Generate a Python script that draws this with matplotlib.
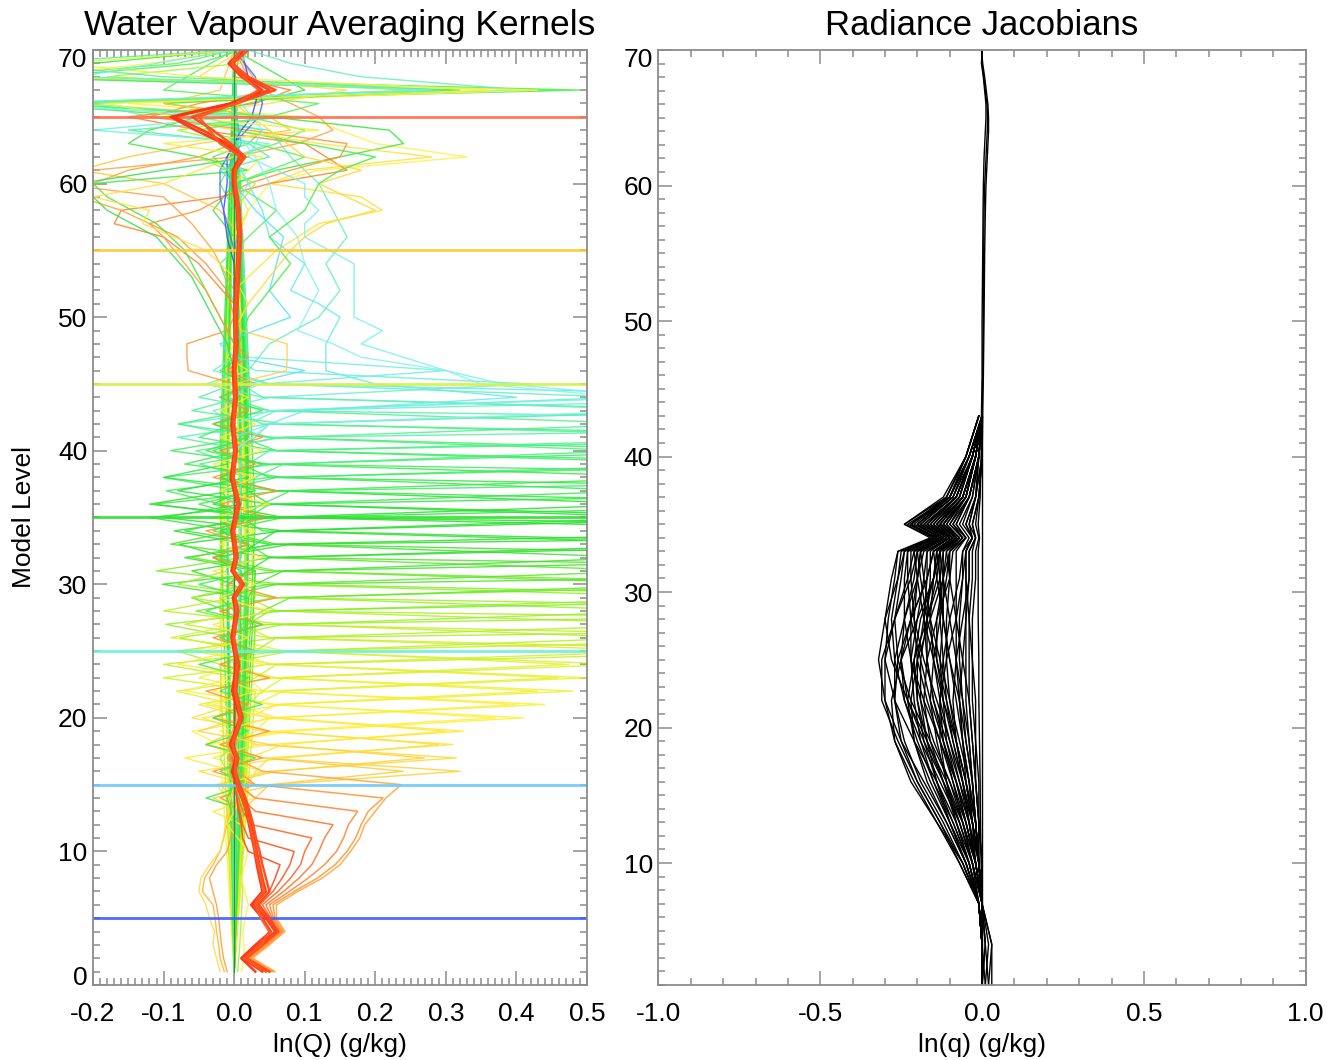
import numpy as np
import matplotlib
matplotlib.use("Agg")
import matplotlib.pyplot as plt
from matplotlib.ticker import MultipleLocator, FormatStrFormatter
from matplotlib.transforms import ScaledTranslation

plt.rcParams['font.family'] = ['Liberation Sans', 'DejaVu Sans']
plt.rcParams['axes.unicode_minus'] = False

# ==========================================
# Averaging kernels (left panel)
# ==========================================

# reference levels drawn across the whole panel
ref_levels = [5, 15, 25, 35, 45, 55, 65]
ref_colors = ['#3a5cff', '#6cc8ff', '#6af0d8', '#30e030', '#d8f048', '#ffc830', '#ff6a48']

# sharp kernels of the mid levels: values at offsets -3..+3 around the peak level
spike_level = [16, 17, 18, 19, 20, 21, 22, 23, 24, 25, 26, 27, 28, 29, 30, 31,
               32, 33, 34, 35, 36, 37, 38, 39, 40, 41, 42, 43, 44, 45, 46]
spike_window = [
    [0.01, -0.03, 0.06, 0.32, 0.04, -0.02, 0.02],
    [-0.01, -0.025, 0.05, 0.315, 0.03, 0.01, -0.02],
    [0.02, -0.05, 0.07, 0.29, 0.05, -0.02, 0.01],
    [0.0, -0.07, 0.05, 0.325, 0.06, 0.0, 0.02],
    [0.02, -0.04, 0.08, 0.41, 0.05, -0.03, 0.01],
    [-0.02, -0.06, 0.06, 0.40, 0.04, 0.02, -0.01],
    [0.01, -0.045, 0.07, 0.48, 0.06, -0.02, 0.03],
    [0.02, -0.05, 0.05, 0.46, 0.05, 0.0, -0.02],
    [0.0, -0.082, 0.06, 0.475, 0.07, -0.01, 0.02],
    [0.03, -0.10, 0.05, 0.62, 0.05, 0.01, -0.02],
    [0.01, -0.10, 0.07, 0.90, 0.04, -0.02, 0.03],
    [-0.02, -0.08, 0.06, 0.65, 0.06, 0.02, 0.0],
    [0.02, -0.077, 0.05, 1.20, 0.05, -0.02, 0.02],
    [0.0, -0.097, 0.07, 0.70, 0.04, 0.0, -0.02],
    [0.03, -0.054, 0.06, 0.80, 0.06, -0.03, 0.02],
    [-0.01, -0.06, 0.05, 0.60, 0.05, 0.02, -0.01],
    [0.02, -0.102, 0.07, 1.00, 0.06, -0.02, 0.03],
    [0.0, -0.06, 0.05, 0.70, 0.04, 0.01, -0.02],
    [0.03, -0.07, 0.06, 0.90, 0.07, -0.03, 0.01],
    [-0.01, -0.078, 0.07, 0.75, 0.05, 0.02, -0.01],
    [0.02, -0.085, 0.05, 0.60, 0.06, -0.02, 0.02],
    [0.0, -0.12, 0.06, 1.10, 0.05, 0.01, -0.02],
    [0.03, -0.112, 0.07, 0.65, 0.04, -0.03, 0.02],
    [-0.02, -0.096, 0.05, 0.85, 0.06, 0.01, 0.0],
    [0.01, -0.10, 0.06, 0.70, 0.05, -0.02, 0.02],
    [0.02, -0.049, 0.05, 1.00, 0.04, 0.0, -0.01],
    [0.0, -0.054, 0.07, 0.60, 0.05, -0.01, 0.02],
    [0.02, -0.08, 0.05, 0.70, 0.04, 0.01, 0.0],
    [0.01, -0.077, 0.06, 0.55, 0.05, -0.01, 0.01],
    [0.0, -0.03, 0.05, 0.42, 0.03, 0.0, 0.01],
    [0.01, -0.02, 0.04, 0.30, 0.02, 0.0, 0.0],
]
spike_color = ['#ffd030', '#ffd838', '#ffe030', '#ffe838', '#fff030', '#fff040',
               '#f0f030', '#e8f028', '#e0f030', '#d0f028', '#c0f020', '#b0f020',
               '#a0f020', '#90f028', '#70ec28', '#58e828', '#40e428', '#30e030',
               '#28e028', '#20e020', '#28e030', '#30e840', '#38e848', '#40ec58',
               '#40ec68', '#48f080', '#50f090', '#58f0a8', '#60f0c0', '#68f0d0',
               '#70f0e0']

# second family of sharp kernels, negative lobe above the peak
spike2_level = [16, 17, 18, 19, 20, 21, 22, 23, 24, 25, 26, 27, 28, 29, 30, 31,
                32, 33, 34, 35, 36, 37, 38, 39, 40, 41, 42, 43, 44]
spike2_window = [
    [0.01, 0.03, 0.05, 0.24, 0.04, -0.04, 0.0],
    [0.0, -0.02, 0.06, 0.27, 0.05, -0.05, 0.01],
    [0.02, 0.03, 0.05, 0.31, 0.04, -0.06, 0.0],
    [-0.01, 0.02, 0.07, 0.30, 0.05, -0.04, 0.02],
    [0.01, -0.02, 0.06, 0.37, 0.06, -0.07, 0.0],
    [0.0, 0.03, 0.05, 0.44, 0.04, -0.05, 0.01],
    [0.02, 0.02, 0.06, 0.43, 0.05, -0.08, 0.0],
    [-0.01, 0.03, 0.07, 0.50, 0.06, -0.06, 0.02],
    [0.02, 0.04, 0.07, 0.55, 0.06, -0.09, 0.01],
    [-0.01, 0.03, 0.06, 0.80, 0.05, -0.07, 0.02],
    [0.01, -0.02, 0.08, 0.58, 0.07, -0.10, 0.0],
    [0.0, 0.03, 0.06, 1.50, 0.05, -0.06, 0.02],
    [0.02, -0.02, 0.07, 0.62, 0.06, -0.08, -0.01],
    [-0.01, 0.02, 0.05, 0.95, 0.07, -0.11, 0.01],
    [0.01, 0.04, 0.08, 0.66, 0.05, -0.06, 0.02],
    [0.0, -0.02, 0.06, 1.30, 0.06, -0.09, 0.0],
    [0.02, 0.03, 0.07, 0.58, 0.05, -0.07, 0.02],
    [-0.01, 0.02, 0.05, 0.85, 0.07, -0.10, 0.01],
    [0.01, -0.03, 0.08, 1.60, 0.06, -0.12, 0.0],
    [0.0, 0.03, 0.06, 0.62, 0.05, -0.08, 0.02],
    [0.02, -0.02, 0.07, 0.90, 0.06, -0.10, -0.01],
    [-0.01, 0.02, 0.05, 0.58, 0.07, -0.07, 0.01],
    [0.01, 0.04, 0.08, 1.20, 0.05, -0.09, 0.02],
    [0.0, -0.02, 0.06, 0.70, 0.06, -0.05, 0.0],
    [0.02, 0.03, 0.07, 0.56, 0.05, -0.08, 0.02],
    [-0.01, 0.02, 0.05, 0.80, 0.07, -0.06, 0.01],
    [0.01, -0.02, 0.06, 1.40, 0.05, -0.05, 0.0],
    [0.0, 0.03, 0.05, 0.65, 0.04, -0.04, 0.02],
    [0.01, 0.02, 0.06, 0.90, 0.05, -0.03, 0.0],
]
spike2_color = ['#ffc838', '#ffd030', '#ffe038', '#ffe830', '#fff038', '#f8f030',
                '#f0f030', '#e8f030', '#d8f030', '#c8f028', '#b8f020', '#a8f020',
                '#98f028', '#80ec28', '#68e828', '#50e428', '#40e030', '#30e030',
                '#28e028', '#28e038', '#30e840', '#38e850', '#40ec60', '#40ec70',
                '#48f080', '#50f090', '#58f0a8', '#60f0b8', '#68f0c8']

# broad lower kernels fanning out from the surface layers
fan_levels = [1, 2, 3, 4, 5, 6, 7, 8, 9, 10, 11, 12, 13, 14, 15, 16, 17, 18, 20, 24]
fan_values = [
    [0.045, 0.015, 0.037, 0.060, 0.048, 0.032, 0.050, 0.058, 0.065, 0.020, 0.012, 0.010, 0.006, 0.004, 0.0, 0.002, -0.003, 0.002, 0.0, 0.0],
    [0.048, 0.016, 0.040, 0.062, 0.050, 0.036, 0.055, 0.068, 0.079, 0.085, 0.020, 0.012, 0.008, 0.004, 0.0, -0.003, 0.002, 0.0, 0.002, 0.0],
    [0.050, 0.018, 0.042, 0.064, 0.052, 0.040, 0.062, 0.080, 0.094, 0.100, 0.110, 0.025, 0.012, 0.006, 0.0, 0.004, -0.004, 0.0, 0.0, 0.0],
    [0.052, 0.020, 0.044, 0.066, 0.054, 0.045, 0.070, 0.092, 0.110, 0.120, 0.128, 0.140, 0.030, 0.010, 0.002, -0.004, 0.003, 0.0, 0.0, 0.0],
    [0.054, 0.022, 0.046, 0.068, 0.056, 0.050, 0.078, 0.105, 0.128, 0.145, 0.155, 0.162, 0.175, 0.030, 0.005, 0.0, -0.005, 0.002, 0.0, 0.0],
    [0.056, 0.024, 0.048, 0.070, 0.058, 0.055, 0.085, 0.118, 0.143, 0.160, 0.172, 0.180, 0.190, 0.211, 0.030, 0.005, -0.010, 0.003, 0.0, 0.0],
    [0.058, 0.026, 0.050, 0.072, 0.060, 0.060, 0.090, 0.125, 0.150, 0.165, 0.178, 0.185, 0.200, 0.215, 0.237, 0.040, 0.0, -0.010, 0.005, 0.0],
]
fan_colors = ['#ff4818', '#ff5820', '#ff6828', '#ff7830', '#ff8838', '#ff9838', '#ffa840']

# near-surface kernels leaning to negative values
low_levels = [
    [1, 2, 3, 4, 5, 6, 7, 8, 9, 10, 12, 14, 16],
    [1, 2, 3, 4, 5, 6, 7, 8, 9, 10, 11, 13, 15],
    [1, 2, 3, 4, 5, 6, 7, 8, 9, 10, 12, 15],
    [1, 3, 5, 7, 9, 11, 13, 15, 17, 19],
    [1, 4, 8, 12, 14, 16, 18],
    [1, 2, 4, 6, 8, 10, 12, 14, 16],
]
low_values = [
    [-0.014, -0.02, -0.022, -0.025, -0.027, -0.03, -0.045, -0.042, -0.03, -0.02, -0.01, 0.0, 0.0],
    [-0.02, -0.025, -0.03, -0.028, -0.035, -0.04, -0.05, -0.047, -0.035, -0.02, -0.015, -0.01, 0.0],
    [-0.01, -0.015, -0.018, -0.02, -0.022, -0.025, -0.03, -0.035, -0.025, -0.01, 0.0, 0.005],
    [0.005, 0.008, 0.01, 0.012, 0.01, 0.015, 0.01, 0.0, -0.02, 0.02],
    [0.0, 0.002, 0.004, 0.002, -0.01, 0.01, -0.01],
    [0.01, 0.015, 0.012, 0.02, 0.01, 0.02, -0.01, 0.01, 0.02],
]
low_colors = ['#ffb030', '#ffd840', '#ff9830', '#a0f040', '#40e840', '#fff040']

# zig-zagging kernels crowding the centre of the mid levels
mid_levels = np.arange(12, 49)
mid_values = [
    [0.0, 0.02, -0.02, 0.03, -0.03, 0.04, -0.02, 0.05, -0.03, 0.02,
     -0.04, 0.05, -0.02, 0.03, -0.03, 0.04, -0.02, 0.06, -0.01, 0.03,
     -0.03, 0.02, -0.04, 0.05, -0.02, 0.06, -0.03, 0.03, -0.02, 0.04,
     -0.03, 0.02, -0.02, 0.03, -0.01, 0.02, 0.0],
    [0.01, -0.03, 0.03, -0.01, 0.04, -0.03, 0.03, -0.02, 0.05, -0.03,
     0.03, -0.02, 0.04, -0.04, 0.02, -0.03, 0.05, -0.02, 0.03, -0.03,
     0.04, -0.02, 0.03, -0.03, 0.05, -0.02, 0.03, -0.03, 0.04, -0.02,
     0.03, -0.02, 0.02, -0.03, 0.02, -0.01, 0.0],
    [-0.01, 0.02, -0.04, 0.02, -0.02, 0.03, -0.04, 0.02, -0.03, 0.04,
     -0.02, 0.02, -0.05, 0.03, -0.02, 0.04, -0.04, 0.02, -0.05, 0.03,
     -0.02, 0.05, -0.03, 0.02, -0.05, 0.03, -0.02, 0.04, -0.04, 0.02,
     -0.03, 0.04, -0.02, 0.02, -0.02, 0.01, 0.0],
]
mid_colors = ['#ff9030', '#ffe838', '#40e848']

# upper-level kernels
upper_levels = [
    [70, 69, 68, 67, 66, 65, 64, 63, 62, 60, 58, 55, 50],
    [70, 69, 68, 67, 66, 65, 64, 63, 62, 60, 57, 53, 49],
    [70, 69, 68, 67, 66, 65, 64, 62, 60, 58, 56, 54, 52, 50, 48, 46],
    [70, 69, 68, 67, 66, 65, 64, 63, 62, 61, 60, 58, 55, 50],
    [70, 69, 68, 67, 66, 65, 64, 63, 62, 61, 60, 58, 56, 52],
    [70, 68, 67, 66, 65, 64, 63, 62, 61, 60, 59, 58, 57, 55, 52],
    [70, 68, 67, 66, 65, 64, 63, 62, 61, 60, 58, 57, 56, 54, 52, 50],
    [70, 68, 67, 66, 65, 64, 63, 62, 61, 60, 59, 58, 57, 56, 54, 51],
    [70, 67, 66, 65, 64, 63, 62, 61, 60, 59, 57, 55, 52],
    [70, 67, 66, 65, 64, 63, 62, 61, 60, 58, 56, 53],
    [70, 67, 66, 65, 64, 63, 62, 61, 60, 59, 57, 55, 52, 50, 48],
    [70, 67, 66, 65, 64, 63, 62, 61, 60, 58, 56, 54, 51],
    [66, 64, 62, 60, 59, 58, 57, 56, 54, 52, 50, 49, 48, 47, 46, 45, 44, 43, 42],
    [64, 62, 60, 58, 56, 54, 52, 50, 49, 48, 47, 46, 45, 44, 43, 42, 40],
    [62, 60, 58, 56, 54, 52, 51, 50, 48, 46, 45, 44, 43, 41],
    [60, 58, 56, 54, 52, 50, 48, 47, 46, 45, 44],
    [70, 68, 67, 66, 65, 64, 62, 60, 58, 56, 54, 50],
    [70, 68, 66, 65, 63, 61, 59, 57, 55],
    [66, 63, 61, 59, 57, 55],
    [63, 62, 61, 60, 59, 58, 57, 56, 54, 52, 50, 48],
    [62, 60, 59, 58, 57, 55, 53, 51, 49],
    [62, 61, 60, 58, 56, 53, 50, 48, 46],
    [66, 64, 62, 61, 60, 59, 58, 57, 56, 55, 53, 51, 49],
    [64, 63, 62, 61, 60, 58, 56, 54, 52, 50, 47],
    [70, 69, 68, 67, 66, 65, 64, 63, 62, 60, 58, 55],
    [50, 49, 48, 47, 46, 45],
    [50, 49, 48, 47, 46, 45],
    [70, 69, 68, 67, 66, 65, 64, 63, 62, 61, 60, 58],
    [70, 69, 68, 67, 66, 65, 64, 63, 62, 60, 58, 56],
    [70, 68, 67, 66, 65, 64, 63, 62, 60, 58],
]
upper_values = [
    [0.01, -0.05, -0.26, 0.49, -0.30, -0.05, 0.04, 0.02, -0.03, 0.01, 0.0, 0.01, 0.0],
    [0.0, -0.08, -0.30, 0.45, -0.25, 0.02, 0.10, 0.06, 0.0, -0.02, 0.01, 0.0, 0.0],
    [0.02, 0.08, 0.18, 0.41, -0.20, -0.12, 0.05, 0.08, 0.12, 0.14, 0.16, 0.13, 0.15, 0.12, 0.05, 0.02],
    [0.0, -0.12, -0.28, 0.43, -0.15, 0.10, 0.15, 0.20, 0.33, 0.12, 0.05, 0.02, 0.0, 0.01],
    [0.0, -0.20, -0.35, 0.32, -0.10, 0.05, 0.22, 0.24, 0.15, 0.06, 0.0, -0.03, 0.0, 0.01],
    [0.01, -0.05, 0.16, 0.05, -0.10, 0.0, 0.12, 0.28, 0.10, 0.05, 0.18, 0.21, 0.12, 0.06, 0.0],
    [0.0, 0.02, 0.06, -0.05, -0.12, 0.02, 0.16, 0.15, 0.08, 0.02, -0.05, -0.12, -0.08, -0.04, -0.01, 0.0],
    [0.01, 0.0, 0.08, 0.03, -0.15, -0.05, 0.10, 0.13, 0.16, 0.05, -0.02, -0.16, -0.17, -0.10, -0.05, 0.0],
    [0.0, 0.04, 0.08, 0.12, 0.14, 0.09, 0.0, -0.20, -0.25, -0.10, -0.06, -0.03, 0.0],
    [0.0, -0.02, -0.10, 0.05, 0.08, -0.05, -0.15, -0.22, -0.10, -0.02, 0.01, 0.0],
    [0.0, 0.10, 0.02, -0.05, -0.12, -0.15, -0.05, 0.02, -0.20, -0.18, -0.11, -0.07, -0.04, -0.02, 0.0],
    [0.0, -0.10, 0.12, 0.05, -0.05, 0.03, 0.10, 0.05, 0.0, 0.06, 0.02, -0.02, 0.0],
    [0.01, 0.04, 0.02, 0.10, 0.10, 0.12, 0.10, 0.10, 0.17, 0.17, 0.17, 0.21, 0.18, 0.24, 0.30, 0.38, 0.60, 0.05, 0.0],
    [0.0, 0.03, 0.05, 0.06, 0.09, 0.10, 0.12, 0.10, 0.09, 0.14, 0.18, 0.30, 0.35, 0.55, 0.60, 0.05, 0.0],
    [0.0, 0.02, 0.04, 0.05, 0.10, 0.08, 0.12, 0.15, 0.13, 0.13, 0.20, 0.40, 0.10, 0.0],
    [0.0, 0.03, 0.07, 0.06, 0.05, 0.08, -0.02, 0.0, 0.10, 0.02, 0.0],
    [0.01, 0.02, 0.035, 0.03, 0.025, 0.01, -0.01, -0.01, -0.015, -0.01, 0.0, 0.0],
    [0.0, 0.03, 0.04, 0.035, 0.0, -0.02, -0.02, -0.01, 0.0],
    [0.0, 0.01, -0.01, 0.0, 0.01, 0.0],
    [0.0, -0.05, -0.15, -0.20, -0.22, -0.16, -0.12, -0.10, -0.07, -0.04, -0.02, 0.0],
    [0.0, -0.10, -0.20, -0.12, -0.13, -0.04, 0.0, 0.02, 0.0],
    [0.02, -0.10, -0.22, -0.18, -0.11, -0.06, -0.03, -0.01, 0.0],
    [0.0, 0.05, 0.10, 0.18, 0.12, 0.16, 0.20, 0.13, 0.10, 0.08, 0.05, 0.02, 0.0],
    [0.0, 0.10, 0.20, 0.15, 0.12, 0.10, 0.05, 0.08, 0.05, 0.02, 0.0],
    [0.02, 0.01, -0.18, 0.25, -0.22, 0.05, -0.08, 0.0, -0.05, 0.03, 0.0, 0.0],
    [0.0, -0.01, -0.067, -0.067, -0.065, 0.0],
    [0.0, 0.01, 0.075, 0.075, 0.074, 0.0],
    [0.0, -0.30, -0.10, 0.30, -0.28, 0.08, -0.15, 0.02, 0.05, -0.02, 0.0, 0.01],
    [0.01, -0.25, -0.05, 0.36, -0.18, -0.08, 0.12, -0.10, 0.04, 0.0, 0.02, 0.0],
    [0.0, -0.22, 0.28, -0.30, 0.0, -0.20, 0.05, 0.0, 0.02, 0.0],
]
upper_colors = ['#48f048', '#60f060', '#68f0b8', '#fff048', '#38e838', '#ffe038',
                '#ff9030', '#ff8028', '#ffa040', '#ffc838', '#40e840', '#58f058',
                '#78f0f0', '#88f0f0', '#68e8f0', '#58e0f8', '#3048ff', '#4068ff',
                '#48a8ff', '#ffa030', '#ffe040', '#30e050', '#ffd830', '#40f040',
                '#a8f038', '#ff9838', '#ffd040', '#50f0a0', '#f0f040', '#70f0e0']

# top-level kernels sitting on the diagonal (drawn last, thick red core)
red_levels = [1, 2, 3, 4, 5, 6, 7, 8, 9, 10, 11, 12, 13, 14, 15, 16, 17, 18,
              20, 22, 24, 26, 28, 29, 30, 31, 32, 34, 36, 38, 40, 42, 44, 46,
              48, 50, 52, 54, 56, 58, 60, 61, 62, 63, 64, 65, 66, 67, 68, 69, 70]
red_values = [
    [0.04, 0.012, 0.035, 0.058, 0.045, 0.028, 0.045, 0.04, 0.036, 0.032, 0.028, 0.024, 0.02, 0.014, 0.006, 0.0, 0.004, -0.004,
     0.01, 0.0, 0.005, -0.002, 0.004, 0.0, 0.012, -0.002, 0.003, -0.002, 0.006, -0.003, 0.002, -0.002, 0.002, 0.0,
     0.003, 0.002, 0.004, 0.006, 0.008, 0.006, 0.0, 0.0, 0.012, -0.01, -0.045, -0.085, -0.002, 0.05, 0.015, -0.005, 0.015],
    [0.05, 0.017, 0.04, 0.062, 0.05, 0.034, 0.05, 0.045, 0.04, 0.036, 0.031, 0.027, 0.022, 0.016, 0.008, 0.002, 0.006, -0.002,
     0.012, 0.003, 0.007, 0.0, 0.006, 0.002, 0.014, 0.0, 0.005, 0.0, 0.008, -0.001, 0.004, 0.0, 0.004, 0.002,
     0.005, 0.004, 0.006, 0.008, 0.01, 0.008, 0.002, 0.002, 0.016, -0.005, -0.03, -0.06, 0.004, 0.058, 0.02, -0.002, 0.02],
    [0.03, 0.01, 0.03, 0.052, 0.04, 0.024, 0.04, 0.036, 0.032, 0.029, 0.025, 0.021, 0.017, 0.011, 0.004, -0.003, 0.002, -0.006,
     0.008, -0.003, 0.003, -0.004, 0.002, -0.002, 0.01, -0.004, 0.001, -0.004, 0.004, -0.005, 0.0, -0.004, 0.0, -0.002,
     0.001, 0.0, 0.002, 0.004, 0.006, 0.004, -0.002, -0.002, 0.008, -0.015, -0.055, -0.09, -0.006, 0.04, 0.01, -0.008, 0.012],
    [0.045, 0.014, 0.038, 0.05, 0.038, 0.03, 0.042, 0.038, 0.034, 0.03, 0.026, 0.022, 0.018, 0.012, 0.005, 0.001, 0.003, -0.003,
     0.009, 0.001, 0.004, -0.001, 0.003, 0.001, 0.01, -0.001, 0.002, -0.001, 0.005, -0.002, 0.001, -0.001, 0.001, 0.001,
     0.002, 0.001, 0.003, 0.005, 0.007, 0.005, 0.001, 0.001, 0.01, -0.02, -0.035, -0.05, 0.002, 0.035, 0.012, -0.004, 0.01],
]
red_colors = ['#ff3810', '#ff4818', '#ff3010', '#ff5a20']

# a kernel sitting on zero for the whole column
flat_levels = [1, 70]
flat_values = [0.0, 0.0]

# ==========================================
# Radiance Jacobians (right panel)
# ==========================================
jac_levels = [1, 4, 7, 10, 13, 16, 19, 22, 25, 28, 31, 33, 34, 35, 37, 40, 43]
jac_values = [
    [0.0, 0.0, -0.01, -0.05, -0.11, -0.18, -0.25, -0.30, -0.32, -0.30, -0.26, -0.24, -0.15, -0.22, -0.10, -0.04, 0.0],
    [0.0, 0.0, -0.01, -0.07, -0.13, -0.20, -0.26, -0.31, -0.31, -0.27, -0.22, -0.20, -0.12, -0.18, -0.08, -0.03, 0.0],
    [0.02, 0.03, 0.0, -0.03, -0.08, -0.14, -0.21, -0.27, -0.30, -0.29, -0.27, -0.26, -0.15, -0.24, -0.11, -0.05, -0.01],
    [0.0, 0.0, -0.01, -0.04, -0.09, -0.15, -0.20, -0.24, -0.27, -0.28, -0.26, -0.25, -0.14, -0.23, -0.10, -0.04, 0.0],
    [0.0, 0.0, 0.0, -0.02, -0.05, -0.10, -0.16, -0.22, -0.26, -0.27, -0.25, -0.24, -0.15, -0.22, -0.11, -0.05, -0.01],
    [0.0, 0.01, 0.0, -0.03, -0.07, -0.13, -0.19, -0.24, -0.25, -0.22, -0.17, -0.15, -0.09, -0.14, -0.06, -0.02, 0.0],
    [0.0, 0.0, -0.01, -0.05, -0.10, -0.16, -0.21, -0.23, -0.21, -0.17, -0.13, -0.12, -0.07, -0.11, -0.05, -0.02, 0.0],
    [0.0, 0.0, 0.0, -0.02, -0.05, -0.09, -0.13, -0.17, -0.20, -0.21, -0.20, -0.19, -0.11, -0.17, -0.08, -0.03, 0.0],
    [0.0, 0.0, 0.0, -0.01, -0.03, -0.06, -0.10, -0.14, -0.18, -0.21, -0.22, -0.22, -0.13, -0.21, -0.10, -0.05, -0.01],
    [0.0, 0.0, -0.01, -0.04, -0.08, -0.12, -0.16, -0.18, -0.17, -0.14, -0.10, -0.09, -0.05, -0.08, -0.04, -0.01, 0.0],
    [0.0, 0.0, 0.0, -0.02, -0.04, -0.07, -0.10, -0.13, -0.15, -0.16, -0.15, -0.14, -0.08, -0.13, -0.06, -0.02, 0.0],
    [0.0, 0.0, 0.0, -0.01, -0.02, -0.04, -0.07, -0.10, -0.13, -0.16, -0.18, -0.19, -0.12, -0.19, -0.09, -0.04, 0.0],
    [0.0, 0.0, -0.01, -0.03, -0.06, -0.09, -0.12, -0.13, -0.12, -0.10, -0.07, -0.06, -0.03, -0.05, -0.02, -0.01, 0.0],
    [0.0, 0.0, 0.0, -0.01, -0.03, -0.05, -0.08, -0.10, -0.11, -0.11, -0.10, -0.10, -0.06, -0.10, -0.05, -0.02, 0.0],
    [0.0, 0.0, 0.0, -0.01, -0.02, -0.03, -0.05, -0.07, -0.10, -0.12, -0.14, -0.15, -0.09, -0.16, -0.08, -0.03, 0.0],
    [0.0, 0.0, 0.0, -0.02, -0.04, -0.06, -0.08, -0.09, -0.08, -0.06, -0.04, -0.04, -0.02, -0.03, -0.01, 0.0, 0.0],
    [0.0, 0.0, 0.0, -0.01, -0.02, -0.03, -0.05, -0.06, -0.07, -0.07, -0.06, -0.06, -0.04, -0.07, -0.03, -0.01, 0.0],
    [0.0, 0.0, 0.0, 0.0, -0.01, -0.02, -0.03, -0.04, -0.06, -0.08, -0.10, -0.11, -0.07, -0.12, -0.06, -0.02, 0.0],
    [0.0, 0.0, 0.0, -0.01, -0.01, -0.02, -0.03, -0.04, -0.04, -0.04, -0.03, -0.03, -0.02, -0.03, -0.01, 0.0, 0.0],
    [0.0, 0.0, 0.0, 0.0, -0.01, -0.01, -0.02, -0.02, -0.03, -0.04, -0.05, -0.05, -0.03, -0.06, -0.03, -0.01, 0.0],
    [0.0, 0.0, -0.01, -0.06, -0.12, -0.19, -0.24, -0.27, -0.26, -0.22, -0.17, -0.15, -0.09, -0.14, -0.06, -0.02, 0.0],
    [0.0, 0.0, 0.0, -0.03, -0.06, -0.11, -0.17, -0.23, -0.28, -0.30, -0.28, -0.26, -0.16, -0.24, -0.12, -0.05, -0.01],
    [0.0, 0.0, -0.01, -0.04, -0.09, -0.14, -0.18, -0.20, -0.20, -0.18, -0.15, -0.14, -0.08, -0.13, -0.06, -0.02, 0.0],
    [0.01, 0.02, 0.0, -0.02, -0.05, -0.08, -0.12, -0.15, -0.17, -0.17, -0.16, -0.16, -0.10, -0.15, -0.07, -0.03, 0.0],
    [0.03, 0.03, 0.0, -0.01, -0.03, -0.05, -0.08, -0.11, -0.14, -0.17, -0.19, -0.20, -0.13, -0.20, -0.10, -0.04, 0.0],
    [0.0, 0.0, 0.0, -0.01, -0.03, -0.04, -0.06, -0.07, -0.08, -0.08, -0.08, -0.08, -0.05, -0.08, -0.04, -0.01, 0.0],
    [0.0, 0.0, -0.01, -0.06, -0.14, -0.22, -0.27, -0.28, -0.25, -0.20, -0.15, -0.13, -0.07, -0.12, -0.05, -0.02, 0.0],
    [0.0, 0.0, 0.0, -0.02, -0.06, -0.12, -0.18, -0.23, -0.25, -0.24, -0.21, -0.20, -0.12, -0.19, -0.09, -0.04, 0.0],
    [0.0, 0.0, 0.0, -0.01, -0.04, -0.08, -0.13, -0.18, -0.22, -0.24, -0.24, -0.23, -0.14, -0.22, -0.11, -0.05, -0.01],
    [0.0, 0.0, -0.01, -0.04, -0.10, -0.15, -0.19, -0.21, -0.22, -0.20, -0.18, -0.17, -0.10, -0.16, -0.07, -0.03, 0.0],
    [0.0, 0.0, 0.0, -0.03, -0.07, -0.11, -0.14, -0.16, -0.15, -0.13, -0.11, -0.10, -0.06, -0.09, -0.04, -0.01, 0.0],
    [0.0, 0.0, 0.0, -0.01, -0.02, -0.05, -0.08, -0.12, -0.15, -0.18, -0.20, -0.21, -0.13, -0.20, -0.10, -0.04, 0.0],
    [0.0, 0.0, 0.0, -0.02, -0.05, -0.08, -0.11, -0.12, -0.13, -0.12, -0.12, -0.12, -0.07, -0.11, -0.05, -0.02, 0.0],
    [0.02, 0.01, 0.0, -0.01, -0.02, -0.03, -0.04, -0.05, -0.05, -0.05, -0.05, -0.05, -0.03, -0.05, -0.02, -0.01, 0.0],
    [0.0, 0.0, 0.0, 0.0, 0.0, 0.0, 0.0, 0.0, 0.0, 0.0, 0.0, 0.0, 0.0, 0.0, 0.0, 0.0, 0.0],
    [0.0, 0.0, 0.0, -0.003, -0.005, -0.006, -0.008, -0.01, -0.01, -0.012, -0.012, -0.012, -0.008, -0.012, -0.006, -0.003, 0.0],
    [0.0, 0.0, -0.01, -0.06, -0.13, -0.20, -0.25, -0.27, -0.27, -0.24, -0.20, -0.18, -0.10, -0.17, -0.08, -0.03, 0.0],
    [0.0, 0.0, -0.01, -0.05, -0.10, -0.14, -0.17, -0.19, -0.19, -0.17, -0.14, -0.13, -0.08, -0.12, -0.05, -0.02, 0.0],
    [0.0, 0.0, 0.0, -0.02, -0.04, -0.08, -0.12, -0.16, -0.19, -0.22, -0.23, -0.23, -0.14, -0.22, -0.10, -0.04, 0.0],
    [0.01, 0.0, -0.01, -0.03, -0.07, -0.12, -0.17, -0.20, -0.21, -0.19, -0.15, -0.13, -0.07, -0.12, -0.05, -0.02, 0.0],
    [0.0, 0.0, 0.0, -0.01, -0.03, -0.06, -0.09, -0.11, -0.12, -0.13, -0.13, -0.13, -0.08, -0.13, -0.06, -0.02, 0.0],
    [0.0, 0.0, -0.01, -0.04, -0.08, -0.11, -0.13, -0.13, -0.11, -0.08, -0.06, -0.05, -0.03, -0.04, -0.02, 0.0, 0.0],
    [0.0, 0.0, 0.0, -0.02, -0.04, -0.06, -0.09, -0.12, -0.14, -0.14, -0.12, -0.11, -0.06, -0.10, -0.04, -0.01, 0.0],
    [0.0, 0.0, 0.0, -0.01, -0.02, -0.04, -0.06, -0.08, -0.10, -0.12, -0.13, -0.14, -0.09, -0.15, -0.07, -0.03, 0.0],
    [0.0, 0.0, -0.01, -0.05, -0.11, -0.17, -0.21, -0.22, -0.20, -0.16, -0.12, -0.10, -0.05, -0.09, -0.04, -0.01, 0.0],
    [0.0, 0.01, 0.0, -0.02, -0.06, -0.10, -0.15, -0.19, -0.22, -0.22, -0.20, -0.19, -0.11, -0.18, -0.08, -0.03, 0.0],
    [0.0, 0.0, 0.0, -0.01, -0.02, -0.03, -0.04, -0.06, -0.08, -0.10, -0.12, -0.13, -0.08, -0.14, -0.07, -0.03, 0.0],
    [0.0, 0.0, 0.0, -0.02, -0.03, -0.05, -0.06, -0.07, -0.06, -0.05, -0.04, -0.04, -0.02, -0.04, -0.02, 0.0, 0.0],
    [0.0, 0.0, -0.01, -0.07, -0.14, -0.21, -0.27, -0.30, -0.30, -0.27, -0.23, -0.21, -0.13, -0.20, -0.09, -0.03, 0.0],
    [0.0, 0.0, 0.0, -0.01, -0.03, -0.07, -0.11, -0.15, -0.17, -0.18, -0.17, -0.17, -0.10, -0.17, -0.08, -0.03, 0.0],
    [0.0, 0.0, 0.0, -0.01, -0.01, -0.02, -0.02, -0.03, -0.03, -0.03, -0.02, -0.02, -0.01, -0.02, -0.01, 0.0, 0.0],
]

# upper part of the Jacobians (tiny sensitivity above level 40)
jac_top_levels = [40, 43, 46, 50, 55, 58, 60, 62, 64, 65, 66, 68, 69, 70]
jac_top_values = [
    [0.0, 0.0, 0.002, 0.004, 0.005, 0.006, 0.008, 0.012, 0.016, 0.017, 0.015, 0.005, 0.0, 0.0],
    [0.0, -0.002, 0.0, 0.0, 0.002, 0.003, 0.004, 0.006, 0.010, 0.012, 0.012, 0.004, -0.002, 0.0],
    [0.0, 0.002, 0.004, 0.006, 0.008, 0.010, 0.012, 0.016, 0.020, 0.020, 0.018, 0.008, 0.002, -0.002],
]


def style_axes(ax):
    for s in ax.spines.values():
        s.set_color('#8c8c8c')
        s.set_linewidth(1.3)
    ax.tick_params(which='both', direction='in', top=True, right=True,
                   color='#8c8c8c', labelcolor='black', labelsize=19, width=1.1)
    ax.tick_params(which='major', length=10)
    ax.tick_params(which='minor', length=5)
    ax.tick_params(axis='x', which='both', pad=12)
    ax.tick_params(axis='y', which='both', pad=4)


fig = plt.figure(figsize=(13.31, 10.60), dpi=100)
ax1 = fig.add_axes([0.0699, 0.0708, 0.3711, 0.8820])
ax2 = fig.add_axes([0.4947, 0.0708, 0.4863, 0.8820])

# --- left panel ---
for levs, wins, cols in ((spike_level, spike_window, spike_color),
                         (spike2_level, spike2_window, spike2_color)):
    for lev, win, col in zip(levs, wins, cols):
        lv = [1] + [lev + k for k in range(-3, 4)] + [70]
        xv = [0.0] + list(win) + [0.0]
        ax1.plot(xv, lv, color=col, lw=1.0, alpha=0.85)

for vals, col in zip(mid_values, mid_colors):
    ax1.plot(vals, mid_levels, color=col, lw=1.0, alpha=0.85)

for lv, vals, col in zip(low_levels, low_values, low_colors):
    ax1.plot(vals, lv, color=col, lw=1.0, alpha=0.85)

for lv, vals, col in zip(upper_levels, upper_values, upper_colors):
    ax1.plot(vals, lv, color=col, lw=1.0, alpha=0.85)

for vals, col in zip(fan_values, fan_colors):
    ax1.plot(vals, fan_levels, color=col, lw=1.1, alpha=0.9)

ax1.plot(flat_values, flat_levels, color='#3c8c3c', lw=0.9)

for lev, col in zip(ref_levels, ref_colors):
    ax1.axhline(lev, color=col, lw=2.0, alpha=0.9)

for vals, col in zip(red_values, red_colors):
    ax1.plot(vals, red_levels, color=col, lw=1.8, alpha=0.95)

ax1.set_xlim(-0.2, 0.5)
ax1.set_ylim(0, 70)
ax1.xaxis.set_major_locator(MultipleLocator(0.1))
ax1.xaxis.set_minor_locator(MultipleLocator(0.01))
ax1.xaxis.set_major_formatter(FormatStrFormatter('%.1f'))
ax1.yaxis.set_major_locator(MultipleLocator(10))
ax1.yaxis.set_minor_locator(MultipleLocator(1))
style_axes(ax1)
ax1.set_title('Water Vapour Averaging Kernels', fontsize=25.5, pad=11)
ax1.set_xlabel('ln(Q) (g/kg)', fontsize=19, labelpad=5)
ax1.set_ylabel('Model Level', fontsize=19, labelpad=16)

# --- right panel ---
for vals in jac_values:
    ax2.plot(vals, jac_levels, color='black', lw=1.0)
for vals in jac_top_values:
    ax2.plot(vals, jac_top_levels, color='black', lw=1.0)

ax2.set_xlim(-1.0, 1.0)
ax2.set_ylim(1, 70)
ax2.xaxis.set_major_locator(MultipleLocator(0.5))
ax2.xaxis.set_minor_locator(MultipleLocator(0.1))
ax2.xaxis.set_major_formatter(FormatStrFormatter('%.1f'))
ax2.yaxis.set_major_locator(MultipleLocator(10))
ax2.yaxis.set_minor_locator(MultipleLocator(1))
style_axes(ax2)
ax2.set_yticks([10, 20, 30, 40, 50, 60, 70])
ax2.set_title('Radiance Jacobians', fontsize=25, pad=11)
ax2.set_xlabel('ln(q) (g/kg)', fontsize=19, labelpad=5)

# keep the end labels of the level axes inside the frame
fig.canvas.draw()
shift_down = ScaledTranslation(0, -7 / 72 * 0.72, fig.dpi_scale_trans)
for ax in (ax1, ax2):
    for tick in ax.yaxis.get_major_ticks():
        y = tick.get_loc()
        if y == 0:
            tick.label1.set_verticalalignment('baseline')
        elif y == 70:
            tick.label1.set_transform(tick.label1.get_transform() + shift_down)

fig.savefig('out.png', dpi=100)
